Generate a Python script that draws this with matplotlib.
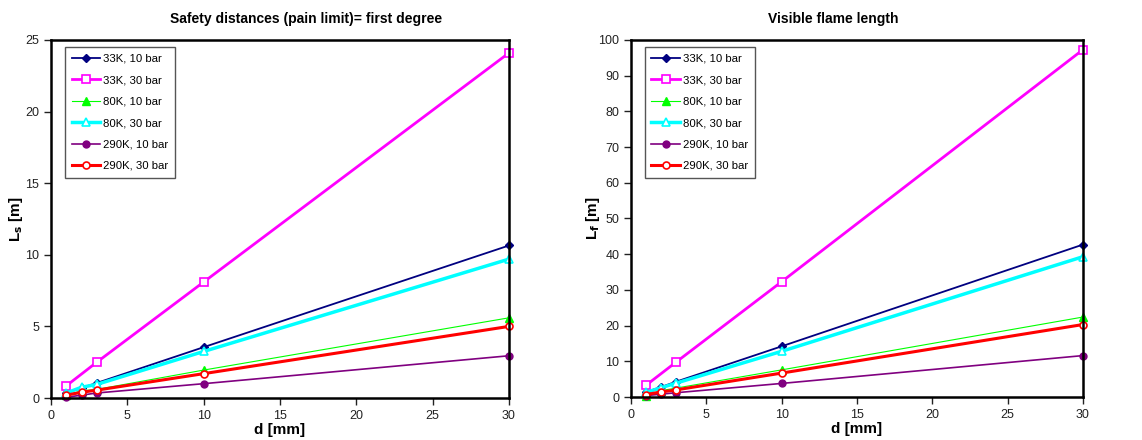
import matplotlib
matplotlib.use("Agg")
import matplotlib.pyplot as plt

plt.rcParams["font.family"] = ["Liberation Sans", "DejaVu Sans"]

# orifice diameters [mm]
d_full = [1, 2, 3, 10, 30]
d_sparse = [1, 3, 10, 30]

labels = ["33K, 10 bar", "33K, 30 bar", "80K, 10 bar",
          "80K, 30 bar", "290K, 10 bar", "290K, 30 bar"]

# safety distances, pain limit [m]
ls_33k_10 = [0.35, 0.7, 1.05, 3.55, 10.65]
ls_33k_30 = [0.85, 2.5, 8.1, 24.1]
ls_80k_10 = [0.2, 0.5, 0.6, 1.95, 5.6]
ls_80k_30 = [0.35, 0.75, 0.95, 3.25, 9.7]
ls_290k_10 = [0.05, 0.2, 0.35, 1.0, 2.95]
ls_290k_30 = [0.2, 0.4, 0.55, 1.7, 5.0]

# visible flame length [m]
lf_33k_10 = [1.4, 2.8, 4.3, 14.2, 42.7]
lf_33k_30 = [3.3, 9.8, 32.3, 97.3]
lf_80k_10 = [0.3, 1.8, 2.5, 7.6, 22.4]
lf_80k_30 = [1.3, 2.6, 3.9, 12.8, 39.3]
lf_290k_10 = [0.4, 0.8, 1.2, 3.8, 11.6]
lf_290k_30 = [0.7, 1.4, 2.0, 6.7, 20.3]

styles = [
    dict(color="#000080", lw=1.3, marker="D", ms=4.5, mfc="#000080", mec="#000080"),
    dict(color="#FF00FF", lw=2.0, marker="s", ms=5.5, mfc="white", mec="#FF00FF", mew=1.2),
    dict(color="#00FF00", lw=0.8, marker="^", ms=6, mfc="#00FF00", mec="#00FF00"),
    dict(color="#00FFFF", lw=2.5, marker="^", ms=6, mfc="white", mec="#00FFFF", mew=1.2),
    dict(color="#800080", lw=1.2, marker="o", ms=5, mfc="#800080", mec="#800080"),
    dict(color="#FF0000", lw=2.2, marker="o", ms=5, mfc="white", mec="#FF0000", mew=1.2),
]


def draw_panel(ax, series, title, title_x, ylabel, ylabelpad, ymax, ystep):
    xs = [d_full, d_sparse, d_full, d_full, d_full, d_full]
    for x, y, lab, st in zip(xs, series, labels, styles):
        ax.plot(x, y, label=lab, clip_on=False, **st)
    ax.set_xlim(0, 30)
    ax.set_ylim(0, ymax)
    ax.set_xticks(range(0, 31, 5))
    ax.set_yticks(range(0, ymax + 1, ystep))
    ax.set_title(title, fontsize=10, fontweight="bold", pad=12, x=title_x)
    ax.set_xlabel("d [mm]", fontsize=11, fontweight="bold", labelpad=1)
    ax.set_ylabel(ylabel, fontsize=11, fontweight="bold", labelpad=ylabelpad)
    ax.tick_params(direction="out", length=5, width=1, labelsize=9, colors="#222222")
    for sp in ax.spines.values():
        sp.set_linewidth(1.8)
    leg = ax.legend(loc="upper left", bbox_to_anchor=(0.03, 0.98), fontsize=8.2,
                    handlelength=2.5, handletextpad=0.25, labelspacing=1.0,
                    borderpad=0.6, fancybox=False, framealpha=1,
                    edgecolor="#555555", borderaxespad=0)
    leg.get_frame().set_linewidth(1.0)


fig = plt.figure(figsize=(11.42, 4.4), dpi=100)
ax1 = fig.add_axes([51 / 1142, 1 - 398 / 440, 458 / 1142, 358 / 440])
ax2 = fig.add_axes([631 / 1142, 1 - 397 / 440, 452 / 1142, 357 / 440])

draw_panel(ax1, [ls_33k_10, ls_33k_30, ls_80k_10, ls_80k_30, ls_290k_10, ls_290k_30],
           "Safety distances (pain limit)= first degree", 0.557,
           r"L$_\mathbf{s}$ [m]", 0, 25, 5)
draw_panel(ax2, [lf_33k_10, lf_33k_30, lf_80k_10, lf_80k_30, lf_290k_10, lf_290k_30],
           "Visible flame length", 0.447,
           r"L$_\mathbf{f}$ [m]", -3, 100, 10)

fig.savefig("out.png", dpi=100)
